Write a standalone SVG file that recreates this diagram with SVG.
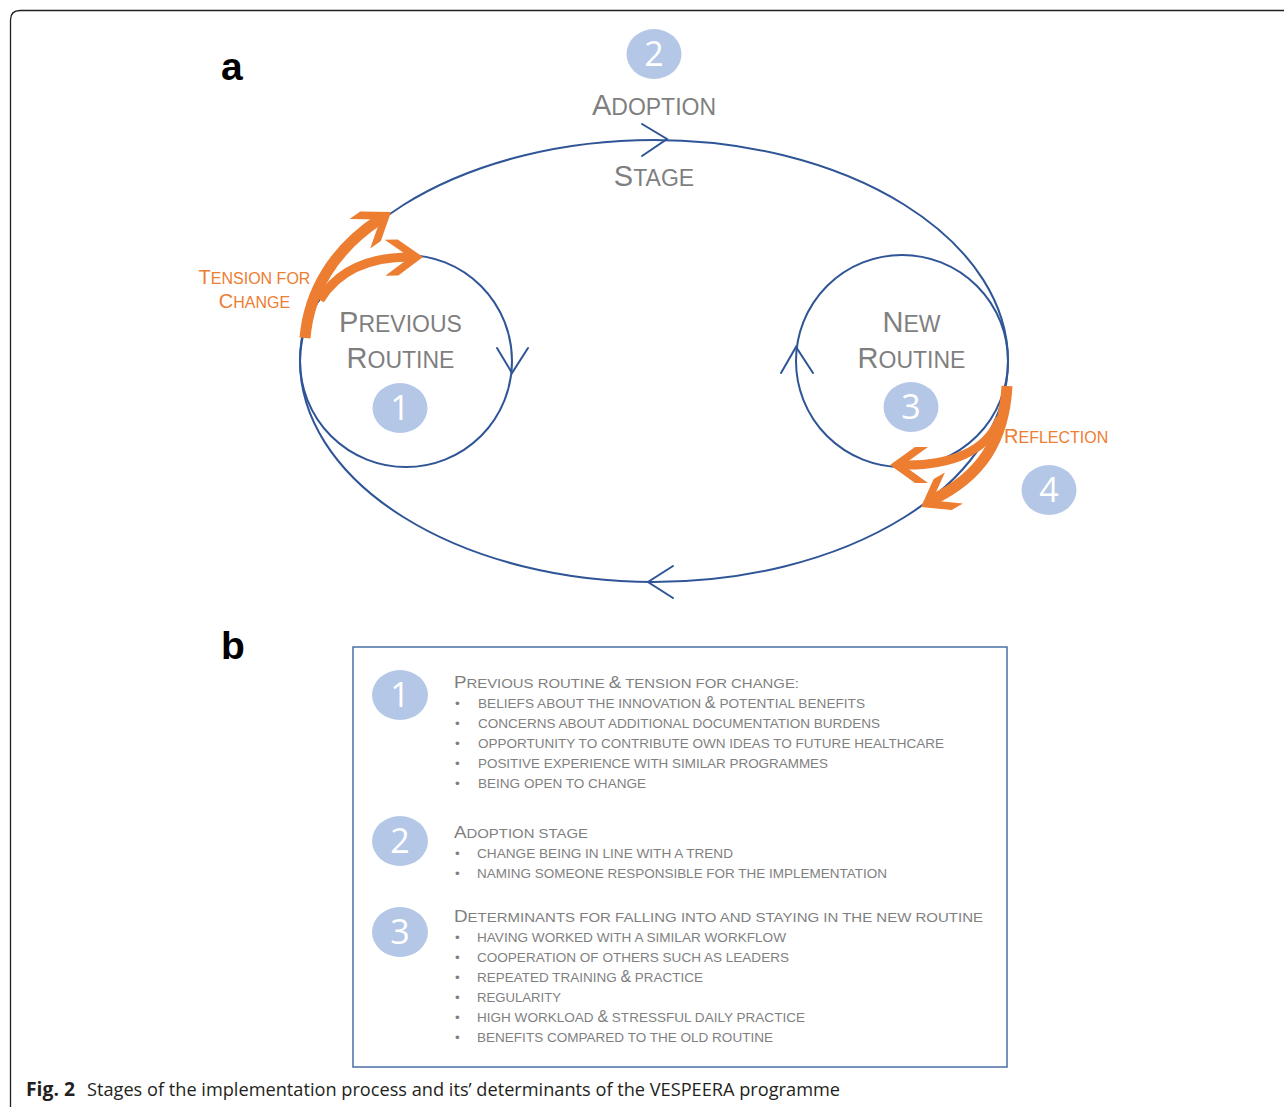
<svg xmlns="http://www.w3.org/2000/svg" xmlns:xlink="http://www.w3.org/1999/xlink" width="1284" height="1107" viewBox="0 0 1284 1107">
<style>
.loop{fill:none;stroke:#2f5597;stroke-width:2}
.chev{fill:none;stroke:#2f5597;stroke-width:2;stroke-linecap:round;stroke-linejoin:miter}
.num{fill:#b4c7e7}
.digit{font-family:"Open Sans","Liberation Sans",sans-serif;font-weight:400;font-size:34px;fill:#ffffff;text-anchor:middle}
.lbl{font-family:"Liberation Sans",Arial,sans-serif;fill:#7f7f7f;text-anchor:middle}
.big{font-size:29px}
.sm{font-size:23px}
.olbl{font-family:"Liberation Sans",Arial,sans-serif;fill:#ed7d31}
.obig{font-size:20px}
.osm{font-size:16px}
.shaft{fill:none;stroke:#ed7d31;stroke-linecap:butt}
.head{fill:#ed7d31}
.panel{font-family:"Liberation Sans",Arial,sans-serif;font-weight:bold;font-size:39px;fill:#000}
.hd{font-family:"Liberation Sans",Arial,sans-serif;fill:#7f7f7f;font-size:13.5px}
.hd .cap{font-size:17px}
.bl{font-family:"Liberation Sans",Arial,sans-serif;fill:#7f7f7f;font-size:13.5px}
.bl .amp{font-size:16px}
.cap-txt{font-family:"Open Sans","Liberation Sans",sans-serif;font-size:19px;fill:#231f20}
</style>
<defs>
<path id="ahead" d="M0,0 L-25,-18 L-38,-18 L-13,0 L-38,18 L-25,18 Z"/>
</defs>
<rect width="1284" height="1107" fill="#ffffff"/>
<path d="M10.5,1107 V20 Q10.5,10.5 20,10.5 H1284" fill="none" stroke="#231f20" stroke-width="1.3"/>
<text class="panel" x="221" y="80">a</text>
<text class="panel" x="221" y="659">b</text>
<g id="connectors">
<ellipse class="loop" cx="654" cy="361" rx="354" ry="221"/>
<polyline class="chev" points="642,124 667,139 642,156"/>
<polyline class="chev" points="673,566 648,582 673,598"/>
<polyline class="chev" points="497,348 512,373 528,348"/>
<polyline class="chev" points="781,373 796,347 813,373"/>
</g>
<g id="adoption-stage">
<ellipse class="num" cx="654" cy="54" rx="27.5" ry="25"/>
<text class="digit" x="654" y="66">2</text>
<text class="lbl" x="654" y="115"><tspan class="big">A</tspan><tspan class="sm">DOPTION</tspan></text>
<text class="lbl" x="654" y="186"><tspan class="big">S</tspan><tspan class="sm">TAGE</tspan></text>
</g>
<g id="previous-routine">
<circle class="loop" cx="406" cy="361" r="106"/>
<ellipse class="num" cx="400" cy="408" rx="27.5" ry="25"/>
<text class="digit" x="400" y="420">1</text>
<text class="lbl" x="400.5" y="332"><tspan class="big">P</tspan><tspan class="sm">REVIOUS</tspan></text>
<text class="lbl" x="400.5" y="368"><tspan class="big">R</tspan><tspan class="sm">OUTINE</tspan></text>
</g>
<g id="new-routine">
<circle class="loop" cx="902" cy="361" r="106"/>
<ellipse class="num" cx="911" cy="407" rx="27.5" ry="25"/>
<text class="digit" x="911" y="419">3</text>
<text class="lbl" x="911.5" y="332"><tspan class="big">N</tspan><tspan class="sm">EW</tspan></text>
<text class="lbl" x="911.5" y="368"><tspan class="big">R</tspan><tspan class="sm">OUTINE</tspan></text>
</g>
<g id="tension-for-change">
<path class="shaft" stroke-width="11" d="M305,338 C309,292 333,250 380,219"/>
<path class="shaft" stroke-width="9" d="M320,300 C338,270 368,257 410,257"/>
<use xlink:href="#ahead" href="#ahead" class="head" transform="translate(391,212) rotate(-35)"/>
<use xlink:href="#ahead" href="#ahead" class="head" transform="translate(423,257) rotate(-1)"/>
<text class="olbl" x="254.5" y="284" text-anchor="middle"><tspan class="obig">T</tspan><tspan class="osm">ENSION FOR</tspan></text>
<text class="olbl" x="254.5" y="308" text-anchor="middle"><tspan class="obig">C</tspan><tspan class="osm">HANGE</tspan></text>
</g>
<g id="reflection">
<path class="shaft" stroke-width="11" d="M1007,386 C1004,440 982,476 932,500"/>
<path class="shaft" stroke-width="9" d="M1000,418 C987,452 950,466 902,465"/>
<use xlink:href="#ahead" href="#ahead" class="head" transform="translate(921,507) rotate(150)"/>
<use xlink:href="#ahead" href="#ahead" class="head" transform="translate(890,465) rotate(180)"/>
<text class="olbl" x="1004" y="443"><tspan class="obig">R</tspan><tspan class="osm">EFLECTION</tspan></text>
<ellipse class="num" cx="1049" cy="490" rx="27.5" ry="25"/>
<text class="digit" x="1049" y="502">4</text>
</g>
<g id="determinants-box">
<rect x="353" y="647" width="654" height="420" fill="none" stroke="#4a6fa5" stroke-width="1.5"/>
</g>
<g id="stage-1-determinants">
<ellipse class="num" cx="400" cy="695" rx="28" ry="25"/>
<text class="digit" x="400" y="707">1</text>
<text class="hd" x="454" y="688" textLength="345" lengthAdjust="spacingAndGlyphs"><tspan class="cap">P</tspan>REVIOUS ROUTINE <tspan class="cap">&amp;</tspan> TENSION FOR CHANGE:</text>
<g class="bl">
<text x="455" y="708">•</text><text x="478" y="708" textLength="387" lengthAdjust="spacingAndGlyphs">BELIEFS ABOUT THE INNOVATION <tspan class="amp">&amp;</tspan> POTENTIAL BENEFITS</text>
<text x="455" y="728">•</text><text x="478" y="728" textLength="402" lengthAdjust="spacingAndGlyphs">CONCERNS ABOUT ADDITIONAL DOCUMENTATION BURDENS</text>
<text x="455" y="748">•</text><text x="478" y="748" textLength="466" lengthAdjust="spacingAndGlyphs">OPPORTUNITY TO CONTRIBUTE OWN IDEAS TO FUTURE HEALTHCARE</text>
<text x="455" y="768">•</text><text x="478" y="768" textLength="350" lengthAdjust="spacingAndGlyphs">POSITIVE EXPERIENCE WITH SIMILAR PROGRAMMES</text>
<text x="455" y="788">•</text><text x="478" y="788" textLength="168" lengthAdjust="spacingAndGlyphs">BEING OPEN TO CHANGE</text>
</g>
</g>
<g id="stage-2-determinants">
<ellipse class="num" cx="400" cy="841" rx="28" ry="25"/>
<text class="digit" x="400" y="853">2</text>
<text class="hd" x="454" y="838" textLength="134" lengthAdjust="spacingAndGlyphs"><tspan class="cap">A</tspan>DOPTION STAGE</text>
<g class="bl">
<text x="455" y="858">•</text><text x="477" y="858" textLength="256" lengthAdjust="spacingAndGlyphs">CHANGE BEING IN LINE WITH A TREND</text>
<text x="455" y="878">•</text><text x="477" y="878" textLength="410" lengthAdjust="spacingAndGlyphs">NAMING SOMEONE RESPONSIBLE FOR THE IMPLEMENTATION</text>
</g>
</g>
<g id="stage-3-determinants">
<ellipse class="num" cx="400" cy="932" rx="28" ry="25"/>
<text class="digit" x="400" y="944">3</text>
<text class="hd" x="454" y="922" textLength="529" lengthAdjust="spacingAndGlyphs"><tspan class="cap">D</tspan>ETERMINANTS FOR FALLING INTO AND STAYING IN THE NEW ROUTINE</text>
<g class="bl">
<text x="455" y="942">•</text><text x="477" y="942" textLength="309" lengthAdjust="spacingAndGlyphs">HAVING WORKED WITH A SIMILAR WORKFLOW</text>
<text x="455" y="962">•</text><text x="477" y="962" textLength="312" lengthAdjust="spacingAndGlyphs">COOPERATION OF OTHERS SUCH AS LEADERS</text>
<text x="455" y="982">•</text><text x="477" y="982" textLength="226" lengthAdjust="spacingAndGlyphs">REPEATED TRAINING <tspan class="amp">&amp;</tspan> PRACTICE</text>
<text x="455" y="1002">•</text><text x="477" y="1002" textLength="84" lengthAdjust="spacingAndGlyphs">REGULARITY</text>
<text x="455" y="1022">•</text><text x="477" y="1022" textLength="328" lengthAdjust="spacingAndGlyphs">HIGH WORKLOAD <tspan class="amp">&amp;</tspan> STRESSFUL DAILY PRACTICE</text>
<text x="455" y="1042">•</text><text x="477" y="1042" textLength="296" lengthAdjust="spacingAndGlyphs">BENEFITS COMPARED TO THE OLD ROUTINE</text>
</g>
</g>
<g id="caption">
<text class="cap-txt" x="26" y="1096" font-weight="bold" textLength="49" lengthAdjust="spacingAndGlyphs">Fig. 2</text>
<text class="cap-txt" x="87" y="1096" textLength="753" lengthAdjust="spacingAndGlyphs">Stages of the implementation process and its’ determinants of the VESPEERA programme</text>
</g>
</svg>
